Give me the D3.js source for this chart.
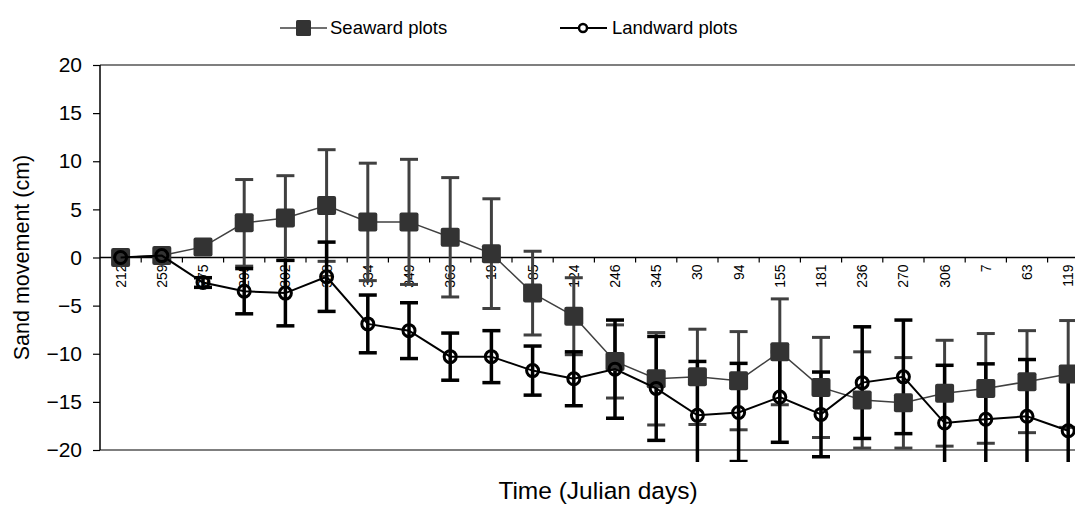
<!DOCTYPE html>
<html>
<head>
<meta charset="utf-8">
<script src="https://cdn.jsdelivr.net/npm/d3@7"></script>
<style>
  body { margin: 0; background: #fff; }
  text { font-family: Arial, "Liberation Sans", sans-serif; fill: #000; }
</style>
</head>
<body>
<script>
// Sampling dates (Julian day) along the x axis
var days = ["212", "259", "275", "295", "302", "318", "334", "349", "363", "19", "85", "124",
            "246", "345", "30", "94", "155", "181", "236", "270", "306", "7", "63", "119"];

// Mean sand movement (cm) and error bar half-widths
var seaward    = [0, 0.2, 1.1, 3.6, 4.1, 5.4, 3.7, 3.7, 2.1, 0.4, -3.7, -6.1,
                  -10.8, -12.6, -12.4, -12.8, -9.8, -13.5, -14.8, -15.1, -14.1, -13.6, -12.9, -12.1];
var seawardErr = [0, 0, 0.5, 4.5, 4.4, 5.8, 6.1, 6.5, 6.2, 5.7, 4.35, 4.0,
                  3.8, 4.8, 4.95, 5.1, 5.5, 5.2, 5.0, 4.7, 5.5, 5.7, 5.3, 5.55];
var landward    = [0, 0.2, -2.6, -3.5, -3.7, -2.0, -6.9, -7.6, -10.3, -10.3, -11.75, -12.6,
                   -11.6, -13.6, -16.4, -16.1, -14.5, -16.3, -13.0, -12.4, -17.2, -16.8, -16.5, -18.0];
var landwardErr = [0, 0, 0.5, 2.35, 3.4, 3.6, 3.0, 2.9, 2.45, 2.7, 2.55, 2.8,
                   5.1, 5.4, 5.6, 5.1, 4.7, 4.4, 5.8, 5.9, 6.0, 5.75, 5.9, 5.5];

var yTicks = [-20, -15, -10, -5, 0, 5, 10, 15, 20];

// Width and height
var w = 1075;
var h = 506;
var plotLeft = 100, plotTop = 65, plotBottom = 450;
var bandW = 41.2;

var svg = d3.select("body")
      .append("svg")
      .attr("width", w)
      .attr("height", h);

var x = d3.scaleBand()
      .domain(d3.range(days.length))
      .range([plotLeft, plotLeft + bandW * days.length]);

var y = d3.scaleLinear()
      .domain([-20, 20])
      .range([plotBottom, plotTop]);

var cx = function(i) { return x(i) + x.bandwidth() / 2; };

// Plot frame (top and bottom edges)
svg.append("line").attr("x1", plotLeft).attr("x2", w).attr("y1", plotTop).attr("y2", plotTop)
   .attr("stroke", "#000").attr("stroke-width", 1.2);
svg.append("line").attr("x1", plotLeft).attr("x2", w).attr("y1", plotBottom).attr("y2", plotBottom)
   .attr("stroke", "#000").attr("stroke-width", 1.2);

// Y axis
var yAxis = svg.append("g")
      .attr("transform", "translate(" + plotLeft + ",0)")
      .call(d3.axisLeft(y).tickValues(yTicks).tickSize(7).tickPadding(11));
yAxis.select(".domain").remove();
yAxis.selectAll(".tick line").attr("stroke", "#000").attr("stroke-width", 1.2);
yAxis.selectAll(".tick text").style("font-size", "21px").attr("fill", "#000");
svg.append("line").attr("x1", plotLeft).attr("x2", plotLeft).attr("y1", plotTop).attr("y2", plotBottom)
   .attr("stroke", "#000").attr("stroke-width", 1.5);

// X axis along zero, ticks on band edges
var y0 = y(0);
svg.append("line").attr("x1", plotLeft).attr("x2", w).attr("y1", y0).attr("y2", y0)
   .attr("stroke", "#000").attr("stroke-width", 1.5);
svg.selectAll(".xtick")
   .data(d3.range(1, days.length + 1))
   .enter()
   .append("line")
   .attr("class", "xtick")
   .attr("x1", function(d) { return plotLeft + d * x.step(); })
   .attr("x2", function(d) { return plotLeft + d * x.step(); })
   .attr("y1", y0)
   .attr("y2", y0 + 5)
   .attr("stroke", "#000")
   .attr("stroke-width", 1.2);

svg.selectAll(".xlabel")
   .data(days)
   .enter()
   .append("text")
   .attr("class", "xlabel")
   .attr("transform", function(d, i) { return "translate(" + cx(i) + "," + (y0 + 7) + ") rotate(-90)"; })
   .attr("text-anchor", "end")
   .attr("dy", "0.35em")
   .style("font-size", "14px")
   .text(function(d) { return d; });

// Axis titles
svg.append("text")
   .attr("transform", "translate(29," + ((plotTop + plotBottom) / 2) + ") rotate(-90)")
   .attr("text-anchor", "middle")
   .style("font-size", "21.5px")
   .text("Sand movement (cm)");

svg.append("text")
   .attr("x", 598)
   .attr("y", 499)
   .attr("text-anchor", "middle")
   .style("font-size", "24.5px")
   .text("Time (Julian days)");

// Legend
var leg = svg.append("g");
leg.append("line").attr("x1", 280).attr("x2", 327).attr("y1", 28).attr("y2", 28)
   .attr("stroke", "#404040").attr("stroke-width", 1.5);
leg.append("rect").attr("x", 296).attr("y", 20).attr("width", 15).attr("height", 16).attr("rx", 1.5)
   .attr("fill", "#333");
leg.append("text").attr("x", 330).attr("y", 34).style("font-size", "18.5px").text("Seaward plots");
leg.append("line").attr("x1", 560).attr("x2", 607).attr("y1", 28).attr("y2", 28)
   .attr("stroke", "#000").attr("stroke-width", 2);
leg.append("circle").attr("cx", 583).attr("cy", 28).attr("r", 4)
   .attr("fill", "#fff").attr("stroke", "#000").attr("stroke-width", 2.5);
leg.append("text").attr("x", 612).attr("y", 34).style("font-size", "18.5px").text("Landward plots");

// Clip error bars a little below the bottom edge
svg.append("clipPath").attr("id", "clip")
   .append("rect").attr("x", plotLeft).attr("y", 0).attr("width", w - plotLeft).attr("height", 462);

var marks = svg.append("g").attr("clip-path", "url(#clip)");

function errorBars(vals, errs, color, width) {
  var g = marks.append("g").attr("stroke", color).attr("stroke-width", width);
  vals.forEach(function(v, i) {
    var e = errs[i];
    if (!e) return;
    var xc = cx(i);
    g.append("line").attr("x1", xc).attr("x2", xc).attr("y1", y(v + e)).attr("y2", y(v - e));
    g.append("line").attr("x1", xc - 9).attr("x2", xc + 9).attr("y1", y(v + e)).attr("y2", y(v + e));
    g.append("line").attr("x1", xc - 9).attr("x2", xc + 9).attr("y1", y(v - e)).attr("y2", y(v - e));
  });
}

errorBars(seaward, seawardErr, "#404040", 3);
errorBars(landward, landwardErr, "#000", 3.5);

var line = d3.line()
      .x(function(d, i) { return cx(i); })
      .y(function(d) { return y(d); });

// Seaward series: grey line with square markers
marks.append("path")
   .datum(seaward)
   .attr("d", line)
   .attr("fill", "none")
   .attr("stroke", "#404040")
   .attr("stroke-width", 1.5);

marks.selectAll(".sq")
   .data(seaward)
   .enter()
   .append("rect")
   .attr("class", "sq")
   .attr("x", function(d, i) { return cx(i) - 9.5; })
   .attr("y", function(d) { return y(d) - 9.5; })
   .attr("width", 19)
   .attr("height", 19)
   .attr("rx", 2)
   .attr("fill", "#333");

// Landward series: black line with open circles
marks.append("path")
   .datum(landward)
   .attr("d", line)
   .attr("fill", "none")
   .attr("stroke", "#000")
   .attr("stroke-width", 2);

marks.selectAll(".ci")
   .data(landward)
   .enter()
   .append("circle")
   .attr("class", "ci")
   .attr("cx", function(d, i) { return cx(i); })
   .attr("cy", function(d) { return y(d); })
   .attr("r", 6)
   .attr("fill", "none")
   .attr("stroke", "#000")
   .attr("stroke-width", 3);
</script>
</body>
</html>
